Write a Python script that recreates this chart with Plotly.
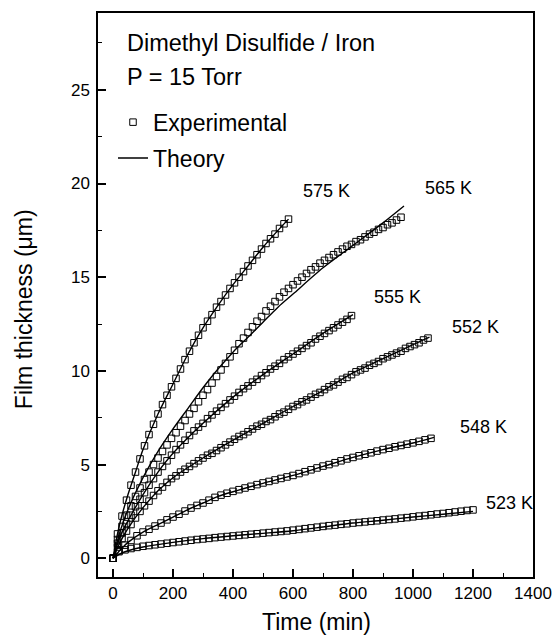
import plotly.graph_objects as go

# ---------------- data ----------------
temps = ["575 K", "565 K", "555 K", "552 K", "548 K", "523 K"]

# experimental points (time in min, thickness in um)
exp_575_t = list(range(0, 586, 15))
exp_575_y = [0.0, 1.3, 2.25, 3.1, 3.9, 4.6, 5.3, 6.0, 6.6, 7.15, 7.7, 8.2, 8.7, 9.15, 9.6,
             10.1, 10.6, 11.05, 11.5, 11.9, 12.3, 12.65, 13.0, 13.4, 13.7, 14.05, 14.4, 14.7,
             15.0, 15.3, 15.6, 15.9, 16.2, 16.5, 16.8, 17.05, 17.3, 17.6, 17.85, 18.1]

exp_565_t = list(range(0, 961, 15))
exp_565_y = [0.0, 1.0, 1.7, 2.3, 2.8, 3.3, 3.75, 4.2, 4.6, 5.0, 5.35, 5.7, 6.05, 6.4, 6.7,
             7.05, 7.35, 7.7, 8.0, 8.35, 8.7, 9.0, 9.35, 9.7, 10.05, 10.4, 10.75, 11.1, 11.45,
             11.75, 12.05, 12.35, 12.65, 12.9, 13.2, 13.45, 13.7, 13.95, 14.2, 14.4, 14.6,
             14.8, 15.0, 15.2, 15.4, 15.55, 15.75, 15.9, 16.05, 16.2, 16.35, 16.5, 16.65,
             16.75, 16.9, 17.0, 17.15, 17.3, 17.4, 17.55, 17.65, 17.8, 17.9, 18.05, 18.2]

exp_555_t = list(range(0, 796, 15))
exp_555_y = [0.0, 0.8, 1.35, 1.85, 2.3, 2.75, 3.15, 3.5, 3.9, 4.25, 4.6, 4.9, 5.2, 5.5, 5.8,
             6.05, 6.3, 6.55, 6.8, 7.0, 7.2, 7.45, 7.65, 7.85, 8.05, 8.25, 8.45, 8.65, 8.85,
             9.05, 9.2, 9.4, 9.55, 9.75, 9.9, 10.1, 10.25, 10.4, 10.6, 10.75, 10.9, 11.05,
             11.2, 11.35, 11.5, 11.7, 11.85, 12.0, 12.15, 12.3, 12.45, 12.6, 12.75, 12.95]

exp_552_t = list(range(0, 1051, 15))
exp_552_y = [0.0, 0.6, 1.05, 1.45, 1.8, 2.15, 2.5, 2.8, 3.05, 3.35, 3.6, 3.8, 4.05, 4.25, 4.4,
             4.6, 4.75, 4.9, 5.05, 5.2, 5.35, 5.5, 5.6, 5.75, 5.9, 6.05, 6.2, 6.35, 6.5, 6.6,
             6.75, 6.9, 7.05, 7.15, 7.3, 7.4, 7.55, 7.7, 7.8, 7.95, 8.1, 8.2, 8.35, 8.45, 8.6,
             8.75, 8.85, 9.0, 9.15, 9.25, 9.4, 9.55, 9.65, 9.8, 9.95, 10.05, 10.15, 10.3, 10.4,
             10.5, 10.65, 10.75, 10.85, 10.95, 11.05, 11.2, 11.3, 11.4, 11.5, 11.65, 11.75]

exp_548_t = list(range(0, 1061, 20))
exp_548_y = [0.0, 0.4, 0.7, 0.95, 1.2, 1.4, 1.55, 1.72, 1.88, 2.05, 2.2, 2.35, 2.52, 2.68, 2.82,
             2.95, 3.1, 3.25, 3.37, 3.47, 3.57, 3.66, 3.75, 3.84, 3.93, 4.02, 4.1, 4.18, 4.26,
             4.34, 4.42, 4.52, 4.62, 4.72, 4.82, 4.92, 5.0, 5.1, 5.2, 5.3, 5.38, 5.47, 5.55,
             5.63, 5.72, 5.8, 5.87, 5.95, 6.02, 6.09, 6.16, 6.24, 6.32, 6.4]

exp_523_t = list(range(0, 1201, 20))
exp_523_y = [0.0, 0.35, 0.45, 0.52, 0.58, 0.64, 0.68, 0.72, 0.76, 0.8, 0.84, 0.88, 0.92, 0.96,
             1.0, 1.03, 1.06, 1.1, 1.13, 1.16, 1.19, 1.22, 1.25, 1.28, 1.31, 1.34, 1.37, 1.4,
             1.43, 1.46, 1.5, 1.54, 1.58, 1.62, 1.66, 1.7, 1.74, 1.77, 1.81, 1.84, 1.88, 1.91,
             1.94, 1.97, 2.0, 2.04, 2.07, 2.1, 2.14, 2.17, 2.21, 2.25, 2.28, 2.32, 2.36, 2.39,
             2.43, 2.47, 2.51, 2.55, 2.58]

# theory curves
th_575_t = [0, 10, 25, 50, 75, 100, 150, 200, 250, 300, 350, 400, 450, 500, 550, 585]
th_575_y = [0, 0.9, 2.0, 3.4, 4.6, 5.8, 7.7, 9.3, 10.9, 12.3, 13.5, 14.6, 15.6, 16.6, 17.5, 18.1]

th_565_t = [0, 25, 50, 100, 150, 200, 250, 300, 350, 400, 450, 500, 550, 600, 700, 800, 900, 970]
th_565_y = [0, 1.5, 2.6, 4.3, 5.7, 6.9, 8.0, 9.1, 10.1, 11.0, 11.8, 12.6, 13.4, 14.1, 15.5,
            16.7, 17.9, 18.8]

th_555_t = [0, 25, 50, 100, 150, 200, 300, 400, 500, 600, 700, 800]
th_555_y = [0, 1.2, 2.0, 3.4, 4.6, 5.6, 7.2, 8.6, 9.8, 10.9, 12.0, 13.0]

th_552_t = [0, 25, 50, 100, 150, 200, 300, 400, 500, 600, 700, 800, 900, 1000, 1055]
th_552_y = [0, 0.9, 1.6, 2.7, 3.6, 4.3, 5.35, 6.3, 7.2, 8.1, 8.95, 9.9, 10.65, 11.4, 11.8]

th_548_t = [0, 25, 50, 100, 150, 200, 250, 300, 350, 400, 500, 600, 700, 800, 900, 1000, 1070]
th_548_y = [0, 0.45, 0.85, 1.4, 1.8, 2.2, 2.6, 2.95, 3.3, 3.55, 4.0, 4.42, 4.9, 5.38, 5.8,
            6.15, 6.45]

th_523_t = [0, 25, 50, 100, 200, 300, 400, 500, 600, 700, 800, 900, 1000, 1100, 1200]
th_523_y = [0, 0.25, 0.4, 0.6, 0.85, 1.05, 1.2, 1.33, 1.47, 1.67, 1.88, 2.03, 2.2, 2.35, 2.5]

exp_sets = [(exp_575_t, exp_575_y), (exp_565_t, exp_565_y), (exp_555_t, exp_555_y),
            (exp_552_t, exp_552_y), (exp_548_t, exp_548_y), (exp_523_t, exp_523_y)]
th_sets = [(th_575_t, th_575_y), (th_565_t, th_565_y), (th_555_t, th_555_y),
           (th_552_t, th_552_y), (th_548_t, th_548_y), (th_523_t, th_523_y)]

# label anchor positions (data coords) for temperature labels
label_x = [626, 1033, 862, 1123, 1150, 1237]
label_y = [19.6, 19.76, 13.94, 12.34, 7.02, 2.95]

FONT = "Liberation Sans, Arial, Helvetica, sans-serif"

fig = go.Figure()

for i, (t, y) in enumerate(th_sets):
    fig.add_trace(go.Scatter(
        x=t, y=y, mode="lines", line=dict(color="black", width=1.4, shape="spline", smoothing=0.8),
        name="Theory", legendgroup="th", legendrank=2, showlegend=(i == 0)))

for i, (t, y) in enumerate(exp_sets):
    fig.add_trace(go.Scatter(
        x=t, y=y, mode="markers",
        marker=dict(symbol="square-open", size=6.5, color="black", line=dict(width=1, color="black")),
        name="Experimental", legendgroup="exp", legendrank=1, showlegend=(i == 0)))

annotations = [
    dict(x=40, y=27.5, text="Dimethyl Disulfide / Iron", xref="x", yref="y",
         xanchor="left", yanchor="middle", showarrow=False, font=dict(size=23.5, color="black", family=FONT)),
    dict(x=40, y=25.7, text="P = 15 Torr", xref="x", yref="y",
         xanchor="left", yanchor="middle", showarrow=False, font=dict(size=23.5, color="black", family=FONT)),
    dict(x=-0.17, y=0.475, text="Film thickness (μm)", xref="paper", yref="paper", textangle=-90,
         xanchor="center", yanchor="middle", showarrow=False, font=dict(size=23, color="black", family=FONT)),
    dict(x=0.503, y=-0.0798, text="Time (min)", xref="paper", yref="paper",
         xanchor="center", yanchor="middle", showarrow=False, font=dict(size=23, color="black", family=FONT)),
]
for name, lx, ly in zip(temps, label_x, label_y):
    annotations.append(dict(x=lx, y=ly, text=name, xref="x", yref="y", xanchor="left",
                            yanchor="middle", showarrow=False,
                            font=dict(size=18, color="black", family=FONT)))

fig.update_layout(
    width=553, height=637,
    margin=dict(l=98, r=20, t=13, b=60, autoexpand=False),
    paper_bgcolor="white", plot_bgcolor="white",
    font=dict(family=FONT, color="black", size=17),
    legend=dict(x=0.0345, y=0.8445, xanchor="left", yanchor="top", bgcolor="rgba(0,0,0,0)",
                borderwidth=0, font=dict(size=23, family=FONT, color="black"),
                traceorder="grouped", tracegroupgap=3),
    annotations=annotations,
    showlegend=True,
)

fig.update_xaxes(
    range=[-50, 1400], tickmode="linear", tick0=0, dtick=200, automargin=False,
    ticks="inside", ticklen=8, tickwidth=1.5, tickcolor="black",
    minor=dict(ticks="inside", dtick=100, tick0=0, ticklen=4, tickwidth=1.2, tickcolor="black"),
    showline=True, linecolor="black", linewidth=1.5, mirror=True,
    showgrid=False, zeroline=False, ticklabelstandoff=0,
    tickfont=dict(size=17, family=FONT, color="black"),
)
fig.update_yaxes(
    range=[-1, 29.1], tickmode="linear", tick0=0, dtick=5, automargin=False,
    ticks="inside", ticklen=8, tickwidth=1.5, tickcolor="black",
    minor=dict(ticks="inside", dtick=2.5, tick0=0, ticklen=4, tickwidth=1.2, tickcolor="black"),
    showline=True, linecolor="black", linewidth=1.5, mirror=True,
    showgrid=False, zeroline=False, ticklabelstandoff=3,
    tickfont=dict(size=17, family=FONT, color="black"),
)

fig.write_html("out.html")
